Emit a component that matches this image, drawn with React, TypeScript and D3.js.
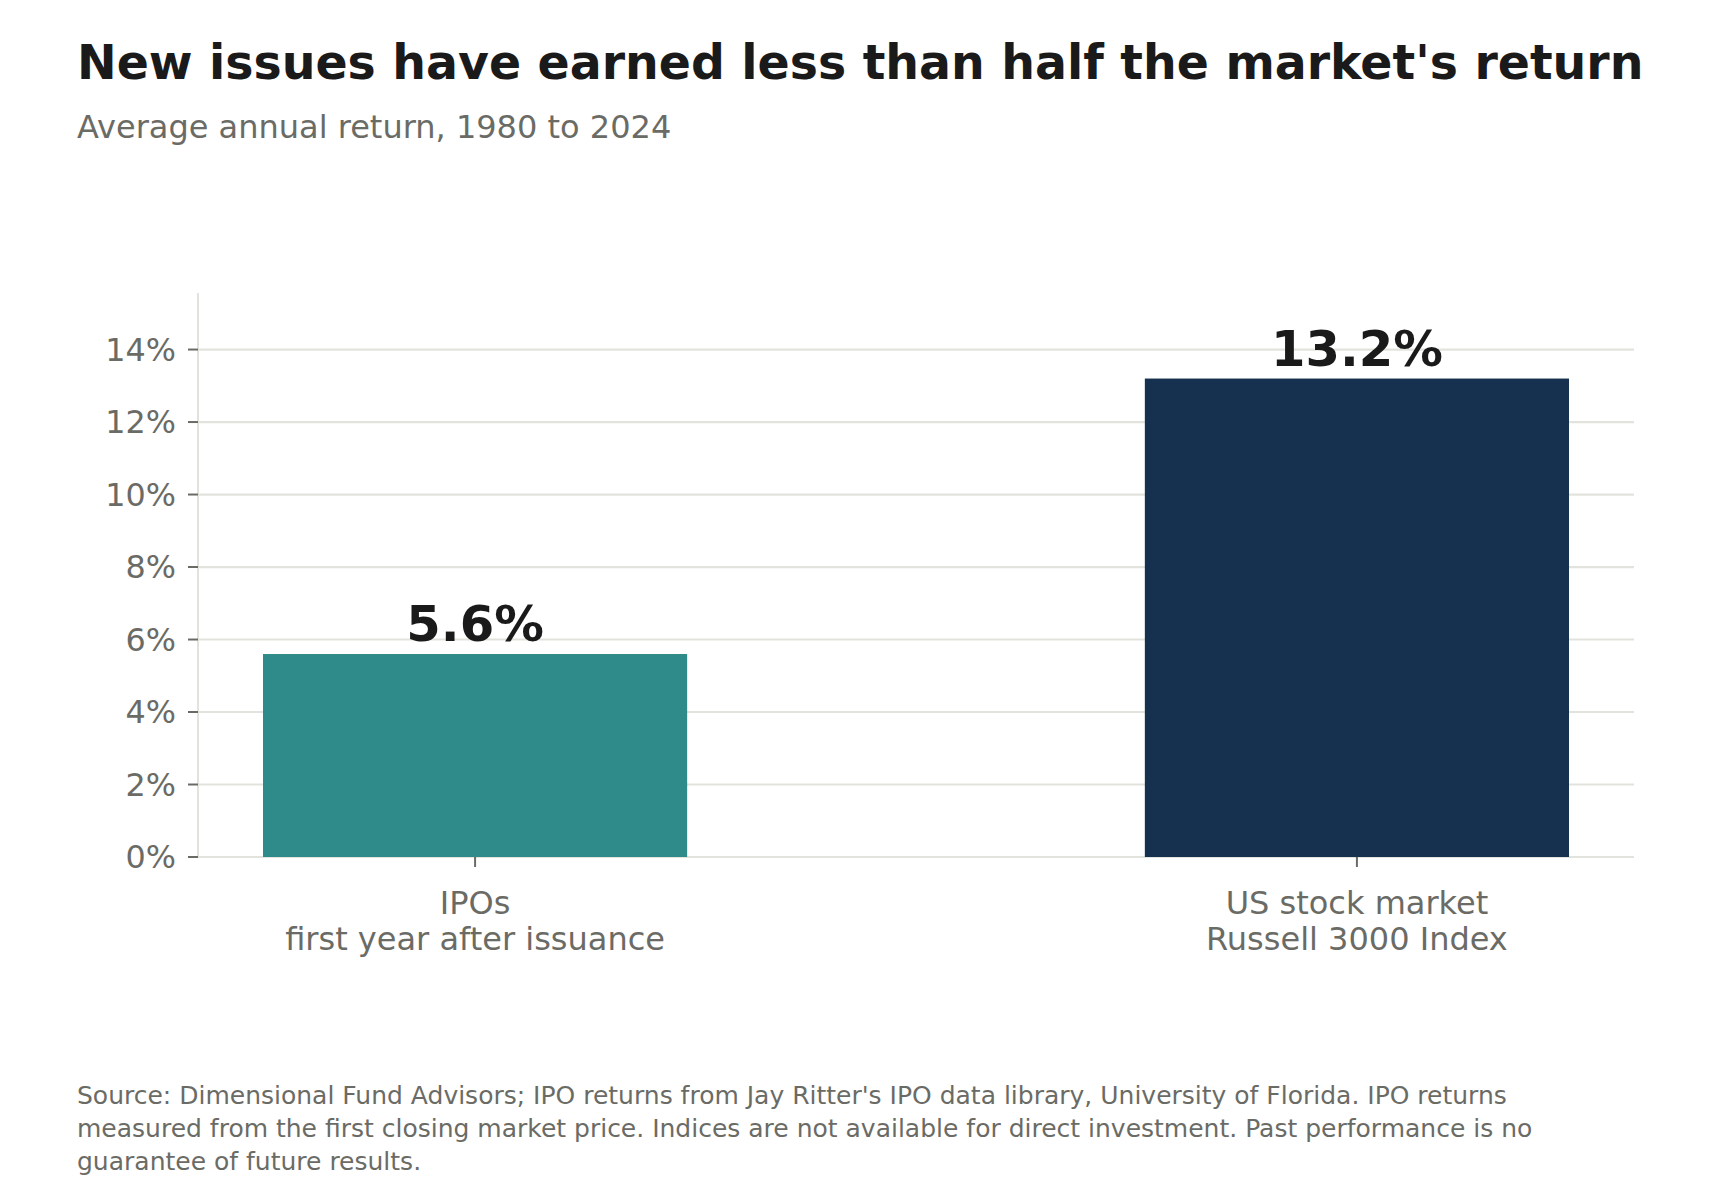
import React from "react";
import * as d3 from "d3";

const categories = ["IPOs", "US stock market"];
const subLabels = ["first year after issuance", "Russell 3000 Index"];
const values = [5.6, 13.2];
const barColors = ["#2e8b89", "#15314f"];
const yTicks = [0, 2, 4, 6, 8, 10, 12, 14];
const yMax = 15.56;

const title = "New issues have earned less than half the market's return";
const subtitle = "Average annual return, 1980 to 2024";
const footnoteLines = [
  "Source: Dimensional Fund Advisors; IPO returns from Jay Ritter's IPO data library, University of Florida. IPO returns",
  "measured from the first closing market price. Indices are not available for direct investment. Past performance is no",
  "guarantee of future results.",
];

const W = 1720;
const H = 1200;
const left = 198;
const right = 1634;
const top = 293;
const bottom = 857;
const FONT = "DejaVu Sans, sans-serif";
const GREY = "#6b6b66";
const GRID = "#e3e3de";

export default function App() {
  const x = d3
    .scaleBand<string>()
    .domain(categories)
    .range([left, right])
    .paddingInner(0.519)
    .paddingOuter(0.0737);
  const y = d3.scaleLinear().domain([0, yMax]).range([bottom, top]);

  return (
    <svg
      width={W}
      height={H}
      style={{ position: "absolute", left: 0, top: 0, background: "#fff" }}
      fontFamily={FONT}
    >
      <rect x={0} y={0} width={W} height={H} fill="#fff" />
      <text x={77} y={79} fontSize={47.4} fontWeight="bold" fill="#1a1a1a">
        {title}
      </text>
      <text x={77} y={138} fontSize={32} fill={GREY}>
        {subtitle}
      </text>

      {/* gridlines */}
      {yTicks.map((t) => (
        <line
          key={"g" + t}
          x1={left}
          x2={right}
          y1={y(t)}
          y2={y(t)}
          stroke={GRID}
          strokeWidth={2.2}
        />
      ))}
      {/* y axis line */}
      <line x1={left} x2={left} y1={top} y2={bottom} stroke={GRID} strokeWidth={2} />
      {/* y ticks */}
      {yTicks.map((t) => (
        <g key={"t" + t}>
          <line x1={left - 10} x2={left} y1={y(t)} y2={y(t)} stroke={GREY} strokeWidth={2} />
          <text
            x={left - 22}
            y={y(t)}
            dy="0.36em"
            textAnchor="end"
            fontSize={31.8}
            fill={GREY}
          >
            {t + "%"}
          </text>
        </g>
      ))}

      {/* bars */}
      {categories.map((c, i) => (
        <rect
          key={c}
          x={x(c)}
          y={y(values[i])}
          width={x.bandwidth()}
          height={y(0) - y(values[i])}
          fill={barColors[i]}
        />
      ))}
      {/* value labels */}
      {categories.map((c, i) => (
        <text
          key={"v" + c}
          x={(x(c) as number) + x.bandwidth() / 2}
          y={y(values[i]) - 13}
          textAnchor="middle"
          fontSize={49.6}
          fontWeight="bold"
          fill="#1a1a1a"
        >
          {values[i].toFixed(1) + "%"}
        </text>
      ))}
      {/* x ticks and labels */}
      {categories.map((c, i) => {
        const cx = (x(c) as number) + x.bandwidth() / 2;
        return (
          <g key={"x" + c}>
            <line x1={cx} x2={cx} y1={bottom} y2={bottom + 10} stroke={GREY} strokeWidth={2} />
            <text x={cx} y={914} textAnchor="middle" fontSize={32} fill={GREY}>
              {c}
            </text>
            <text x={cx} y={949.5} textAnchor="middle" fontSize={32} fill={GREY}>
              {subLabels[i]}
            </text>
          </g>
        );
      })}

      {/* footnote */}
      {footnoteLines.map((l, i) => (
        <text key={"f" + i} x={77} y={1104 + i * 33} fontSize={25} fill={GREY}>
          {l}
        </text>
      ))}
    </svg>
  );
}
